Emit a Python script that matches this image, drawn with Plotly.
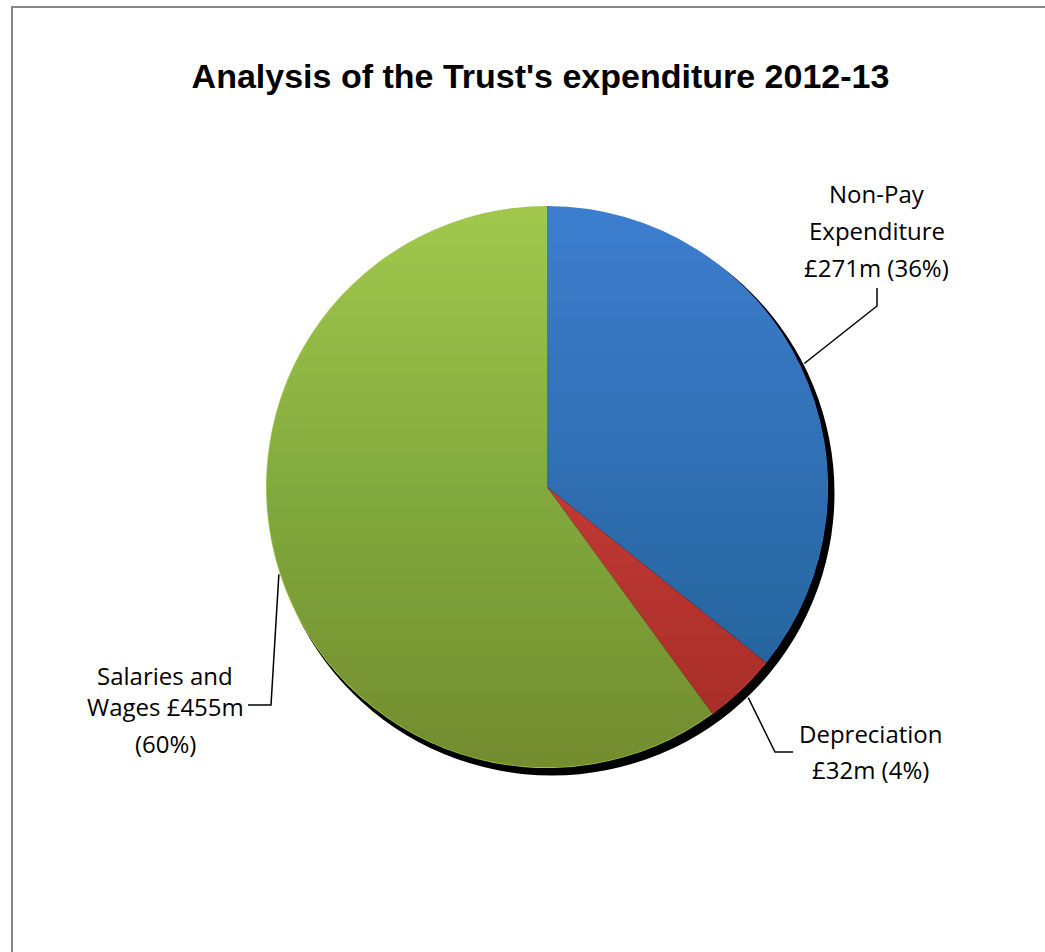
import math
import plotly.graph_objects as go

# Trust expenditure 2012-13 (£m)
categories = ["Non-Pay Expenditure", "Depreciation", "Salaries and Wages"]
amounts = [271, 32, 455]
slice_colors = ["#3d7dce", "#de4843", "#a0c74c"]
label_templates = [
    "Non-Pay<br>Expenditure<br>£{v}m ({p}%)",
    "Depreciation<br>£{v}m ({p}%)",
    "Salaries and<br>Wages £{v}m<br>({p}%)",
]
title_text = "Analysis of the Trust's expenditure 2012-13"

# canvas and pie geometry in pixels
W, H = 1045, 952
CX, CY, R = 547, 487, 281
SHADOW_DX, SHADOW_DY, SHADOW_GROW = 5, 6, 1.5

# label placement: centre x, centre y of each text line, leader elbow points
label_layout = [
    dict(x=876.5, ys=[193.5, 230.5, 267.5], bend=[(877, 306), (877, 288)]),
    dict(x=870.5, ys=[733.5, 769.5], bend=[(775, 752), (793, 752)]),
    dict(x=165.0, ys=[675.0, 706.0, 743.0], bend=[(271, 705), (248, 705)]),
]

LABEL_FONT = dict(family="Open Sans, sans-serif", size=24, color="#000000")
TITLE_FONT = dict(family="Liberation Sans, Arial, sans-serif", size=34, color="#000000")


def pie_domain(cx, cy, r):
    return dict(x=[(cx - r) / W, (cx + r) / W],
                y=[1 - (cy + r) / H, 1 - (cy - r) / H])


total = sum(amounts)
percents = [round(v / total * 100) for v in amounts]

fig = go.Figure()

# drop shadow: a black disc offset down and to the right
fig.add_trace(go.Pie(
    values=[total], marker=dict(colors=["#000000"], line=dict(width=0)),
    domain=pie_domain(CX + SHADOW_DX, CY + SHADOW_DY, R + SHADOW_GROW),
    textinfo="none", hoverinfo="skip", showlegend=False, sort=False,
))

# the expenditure pie, clockwise from 12 o'clock
fig.add_trace(go.Pie(
    labels=categories, values=amounts,
    marker=dict(colors=slice_colors, line=dict(width=0)),
    domain=pie_domain(CX, CY, R),
    direction="clockwise", rotation=0, sort=False,
    textinfo="none", hoverinfo="label+value+percent", showlegend=False,
))

# leader lines from each slice's mid-angle to its label
cum = 0
for v, lay in zip(amounts, label_layout):
    mid = (cum + v / 2) / total * 2 * math.pi
    cum += v
    extra = max(0.0, SHADOW_DX * math.sin(mid) - SHADOW_DY * math.cos(mid) + SHADOW_GROW)
    rs = R + extra + 1
    xs = [CX + rs * math.sin(mid)] + [p[0] for p in lay["bend"]]
    ys = [CY - rs * math.cos(mid)] + [p[1] for p in lay["bend"]]
    fig.add_trace(go.Scatter(
        x=xs, y=ys, mode="lines", line=dict(color="#000000", width=1.5),
        hoverinfo="skip", showlegend=False,
    ))

# labels, one annotation per text line
annotations = []
for v, p, tpl, lay in zip(amounts, percents, label_templates, label_layout):
    lines = tpl.format(v=v, p=p).split("<br>")
    for line, y in zip(lines, lay["ys"]):
        annotations.append(dict(
            x=lay["x"], y=y, xref="x", yref="y", text=line, showarrow=False,
            xanchor="center", yanchor="middle", font=LABEL_FONT,
        ))

# vertical shading over the pie: stacked chord slabs, darker toward the bottom
shapes = []
N_BANDS = 30
for i in range(1, N_BANDS):
    y0 = CY - R + i * (2 * R / N_BANDS)
    phi0 = math.acos(max(-1.0, min(1.0, (y0 - CY) / R)))
    pts = []
    for k in range(61):
        phi = -phi0 + 2 * phi0 * k / 60
        pts.append((CX + (R - 0.5) * math.sin(phi), CY + (R - 0.5) * math.cos(phi)))
    path = "M " + " L ".join(f"{x:.2f},{y:.2f}" for x, y in pts) + " Z"
    shapes.append(dict(type="path", path=path, xref="x", yref="y",
                       fillcolor="#000000", opacity=2 / 255,
                       line=dict(width=0), layer="above"))

# chart-area frame
shapes.append(dict(type="rect", xref="x", yref="y", x0=12, y0=7, x1=W + 20, y1=H + 20,
                   line=dict(color="#878787", width=2), fillcolor="rgba(0,0,0,0)",
                   layer="above"))

fig.update_layout(
    width=W, height=H,
    margin=dict(l=0, r=0, t=0, b=0, pad=0),
    paper_bgcolor="#ffffff", plot_bgcolor="#ffffff",
    title=dict(text="<b>" + title_text + "</b>", font=TITLE_FONT,
               x=540.5 / W, xanchor="center", xref="paper",
               y=1 - 76 / H, yanchor="middle", yref="paper"),
    xaxis=dict(range=[0, W], visible=False, fixedrange=True, domain=[0, 1]),
    yaxis=dict(range=[H, 0], visible=False, fixedrange=True, domain=[0, 1]),
    annotations=annotations,
    shapes=shapes,
)

fig.write_html("out.html")
